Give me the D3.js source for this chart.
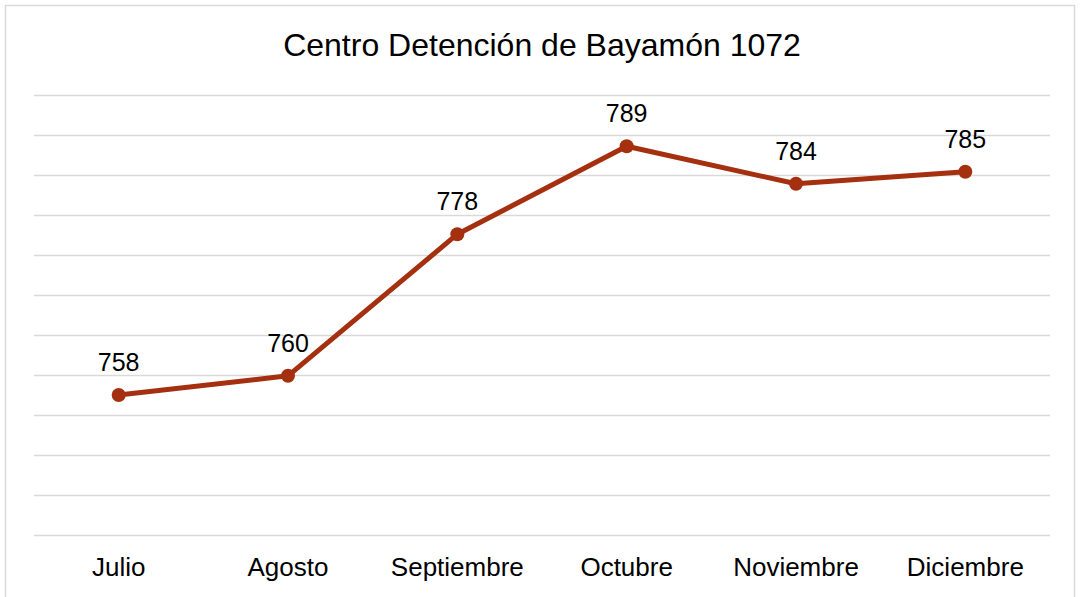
<!DOCTYPE html>
<html>
<head>
<meta charset="utf-8">
<script src="https://cdn.jsdelivr.net/npm/d3@7"></script>
<style>
  body { margin: 0; background: #fff; }
  text { font-family: "Liberation Sans", Arial, sans-serif; fill: #000; }
</style>
</head>
<body>
<div id="chart"></div>
<script>
const months = ["Julio", "Agosto", "Septiembre", "Octubre", "Noviembre", "Diciembre"];
const values = [757.5, 759.9, 777.6, 788.6, 783.9, 785.4];
const chartTitle = "Centro Detención de Bayamón 1072";
const yDomain = [740, 795];

function Config(width = 1080, height = 597) {
    this.width = width;
    this.height = height;
    this.marginTop = 95;
    this.marginRight = 30;
    this.marginBottom = 62;
    this.marginLeft = 34;
    this.x = d3.scaleBand()
        .domain(months)
        .range([this.marginLeft, this.width - this.marginRight]);
    this.y = d3.scaleLinear()
        .domain(yDomain)
        .range([this.height - this.marginBottom, this.marginTop]);
}

function plotData(cfg) {
    const svg = d3.select("#chart").append("svg")
        .attr("width", cfg.width)
        .attr("height", cfg.height);

    // outer frame
    svg.append("rect")
        .attr("x", 5.5).attr("y", 5.5)
        .attr("width", cfg.width - 11).attr("height", cfg.height)
        .attr("fill", "#fff")
        .attr("stroke", "#d9d9d9")
        .attr("stroke-width", 1.5);

    svg.append("text")
        .attr("x", (cfg.marginLeft + cfg.width - cfg.marginRight) / 2)
        .attr("y", 56)
        .attr("text-anchor", "middle")
        .attr("font-size", "32px")
        .text(chartTitle);

    // gridlines
    svg.append("g")
        .attr("transform", `translate(${cfg.marginLeft},0)`)
        .call(d3.axisLeft(cfg.y)
            .tickValues(d3.range(yDomain[0], yDomain[1] + 1, 5))
            .tickSize(-(cfg.width - cfg.marginLeft - cfg.marginRight))
            .tickFormat(""))
        .call(g => g.select(".domain").remove())
        .call(g => g.selectAll(".tick line")
            .attr("stroke", "#d9d9d9")
            .attr("stroke-width", 1.5));

    // x axis labels
    svg.append("g")
        .attr("transform", `translate(0,${cfg.height - cfg.marginBottom})`)
        .call(d3.axisBottom(cfg.x).tickSize(0).tickPadding(23))
        .call(g => g.select(".domain").remove())
        .call(g => g.selectAll(".tick text")
            .attr("font-size", "26px")
            .attr("font-family", "Liberation Sans, Arial, sans-serif")
            .attr("fill", "#000"));

    const cx = d => cfg.x(d.month) + cfg.x.bandwidth() / 2;
    const data = months.map((m, i) => ({month: m, value: values[i]}));

    const line = d3.line()
        .x(cx)
        .y(d => cfg.y(d.value));

    svg.append("path")
        .attr("fill", "none")
        .attr("stroke", "#a5300f")
        .attr("stroke-width", 5)
        .attr("stroke-linejoin", "round")
        .attr("d", line(data));

    svg.append("g")
        .selectAll("circle")
        .data(data)
        .join("circle")
        .attr("cx", cx)
        .attr("cy", d => cfg.y(d.value))
        .attr("r", 7)
        .attr("fill", "#a5300f");

    svg.append("g")
        .selectAll("text")
        .data(data)
        .join("text")
        .attr("x", cx)
        .attr("y", d => cfg.y(d.value) - 24)
        .attr("text-anchor", "middle")
        .attr("font-size", "25px")
        .text(d => d3.format(".0f")(d.value));
}

document.addEventListener("DOMContentLoaded", () => plotData(new Config()));
</script>
</body>
</html>
